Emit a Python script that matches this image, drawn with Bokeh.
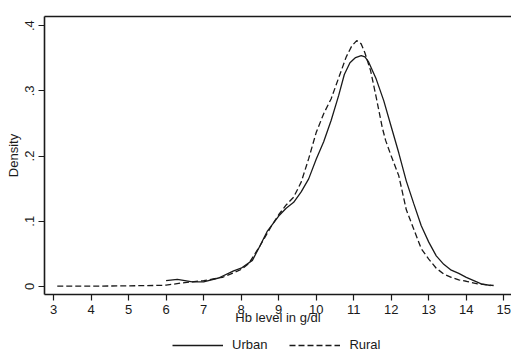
import numpy as np
from bokeh.plotting import figure
from bokeh.layouts import column
from bokeh.models import (Legend, LegendItem, LinearAxis, FixedTicker, Range1d)
from bokeh.embed import file_html
from bokeh.resources import INLINE

# Kernel density estimates
urban_x = [6.0, 6.3, 6.7, 7.0, 7.4, 7.8, 8.0, 8.3, 8.5, 8.7, 9.0, 9.2, 9.4, 9.6,
           9.8, 10.0, 10.2, 10.4, 10.6, 10.75, 10.9, 11.05, 11.2, 11.3, 11.4,
           11.6, 11.8, 12.0, 12.2, 12.4, 12.6, 12.8, 13.0, 13.2, 13.4, 13.6,
           13.8, 14.0, 14.2, 14.4, 14.65]
urban_y = [0.009, 0.011, 0.007, 0.007, 0.013, 0.024, 0.028, 0.040, 0.062, 0.085,
           0.108, 0.120, 0.129, 0.145, 0.165, 0.195, 0.222, 0.255, 0.293, 0.325,
           0.343, 0.351, 0.354, 0.352, 0.344, 0.318, 0.285, 0.245, 0.205, 0.162,
           0.127, 0.093, 0.068, 0.047, 0.034, 0.025, 0.020, 0.014, 0.009, 0.004,
           0.0015]

rural_x = [3.1, 4.0, 5.0, 5.7, 6.0, 6.5, 7.0, 7.5, 7.8, 8.0, 8.2, 8.5, 8.8, 9.0,
           9.2, 9.4, 9.6, 9.8, 10.0, 10.2, 10.4, 10.6, 10.8, 10.95, 11.08, 11.2,
           11.3, 11.45, 11.6, 11.76, 11.85, 12.0, 12.2, 12.4, 12.7, 12.8, 13.0,
           13.2, 13.4, 13.6, 13.8, 14.0, 14.3, 14.73]
rural_y = [0.0005, 0.0005, 0.001, 0.0015, 0.002, 0.006, 0.009, 0.014, 0.021,
           0.026, 0.035, 0.062, 0.092, 0.110, 0.125, 0.137, 0.160, 0.196, 0.236,
           0.265, 0.288, 0.320, 0.352, 0.369, 0.377, 0.372, 0.358, 0.331, 0.290,
           0.244, 0.224, 0.200, 0.170, 0.118, 0.073, 0.058, 0.042, 0.028, 0.019,
           0.014, 0.010, 0.008, 0.004, 0.0015]

x_ticks = [3, 4, 5, 6, 7, 8, 9, 10, 11, 12, 13, 14, 15]
y_ticks = [0, 0.1, 0.2, 0.3, 0.4]
y_tick_labels = ["0", ".1", ".2", ".3", ".4"]
series_names = ["Urban", "Rural"]

FONT = "Liberation Sans"
INK = "#1a1a1a"
LW = 1.3
DASH = "6 3"

p = figure(width=511, height=334, output_backend="svg", toolbar_location=None,
           x_range=Range1d(2.76, 15.205), y_range=Range1d(-0.0123, 0.414),
           min_border_left=44, min_border_top=16, min_border_right=0,
           min_border_bottom=40)
p.background_fill_color = "white"
p.border_fill_color = "white"
p.outline_line_color = None
p.xgrid.grid_line_color = None
p.ygrid.grid_line_color = None

p.line(urban_x, urban_y, line_color=INK, line_width=LW)
p.line(rural_x, rural_y, line_color=INK, line_width=LW, line_dash=DASH)

xa = p.xaxis[0]
xa.ticker = FixedTicker(ticks=x_ticks)
xa.axis_label = "Hb level in g/dl"
ya = p.yaxis[0]
ya.ticker = FixedTicker(ticks=y_ticks)
ya.major_label_overrides = {t: l for t, l in zip(y_ticks, y_tick_labels)}
ya.major_label_orientation = "vertical"
ya.axis_label = "Density"

for ax in (xa, ya):
    ax.axis_line_color = INK
    ax.axis_line_width = 1.6
    ax.major_tick_line_color = INK
    ax.major_tick_line_width = 1.2
    ax.major_tick_out = 6
    ax.major_tick_in = 0
    ax.minor_tick_line_color = None
    ax.major_label_text_font = FONT
    ax.major_label_text_font_size = "13px"
    ax.major_label_text_color = INK
    ax.axis_label_text_font = FONT
    ax.axis_label_text_font_size = "13px"
    ax.axis_label_text_font_style = "normal"
    ax.axis_label_text_color = INK
    ax.major_label_standoff = 4

xa.axis_label_standoff = -7
ya.axis_label_standoff = 2

top = LinearAxis(ticker=FixedTicker(ticks=[]), axis_line_color=INK,
                 axis_line_width=1.6, major_label_text_font_size="0px",
                 minor_tick_line_color=None, major_tick_line_color=None,
                 major_tick_out=0, major_label_standoff=0)
p.add_layout(top, "above")

# Legend strip below the plot: same series drawn out of view, only the key shows
lg = figure(width=511, height=22, output_backend="svg", toolbar_location=None,
            x_range=Range1d(0, 1), y_range=Range1d(5, 6), min_border=0)
lg.axis.visible = False
lg.xgrid.grid_line_color = None
lg.ygrid.grid_line_color = None
lg.outline_line_color = None
lg.background_fill_color = "white"
lg.border_fill_color = "white"
ru = lg.line(urban_x, urban_y, line_color=INK, line_width=LW)
rr = lg.line(rural_x, rural_y, line_color=INK, line_width=LW, line_dash=DASH)
legend = Legend(items=[LegendItem(label=series_names[0], renderers=[ru]),
                       LegendItem(label=series_names[1], renderers=[rr])],
                orientation="horizontal", location=(128, 4),
                label_text_font=FONT, label_text_font_size="13px",
                label_text_color=INK, glyph_width=51, glyph_height=14,
                label_standoff=9, spacing=22, padding=3, margin=0,
                border_line_color=None, background_fill_alpha=0)
lg.add_layout(legend, "center")

layout = column(p, lg, spacing=0)
open("out.html", "w").write(file_html(layout, INLINE))
